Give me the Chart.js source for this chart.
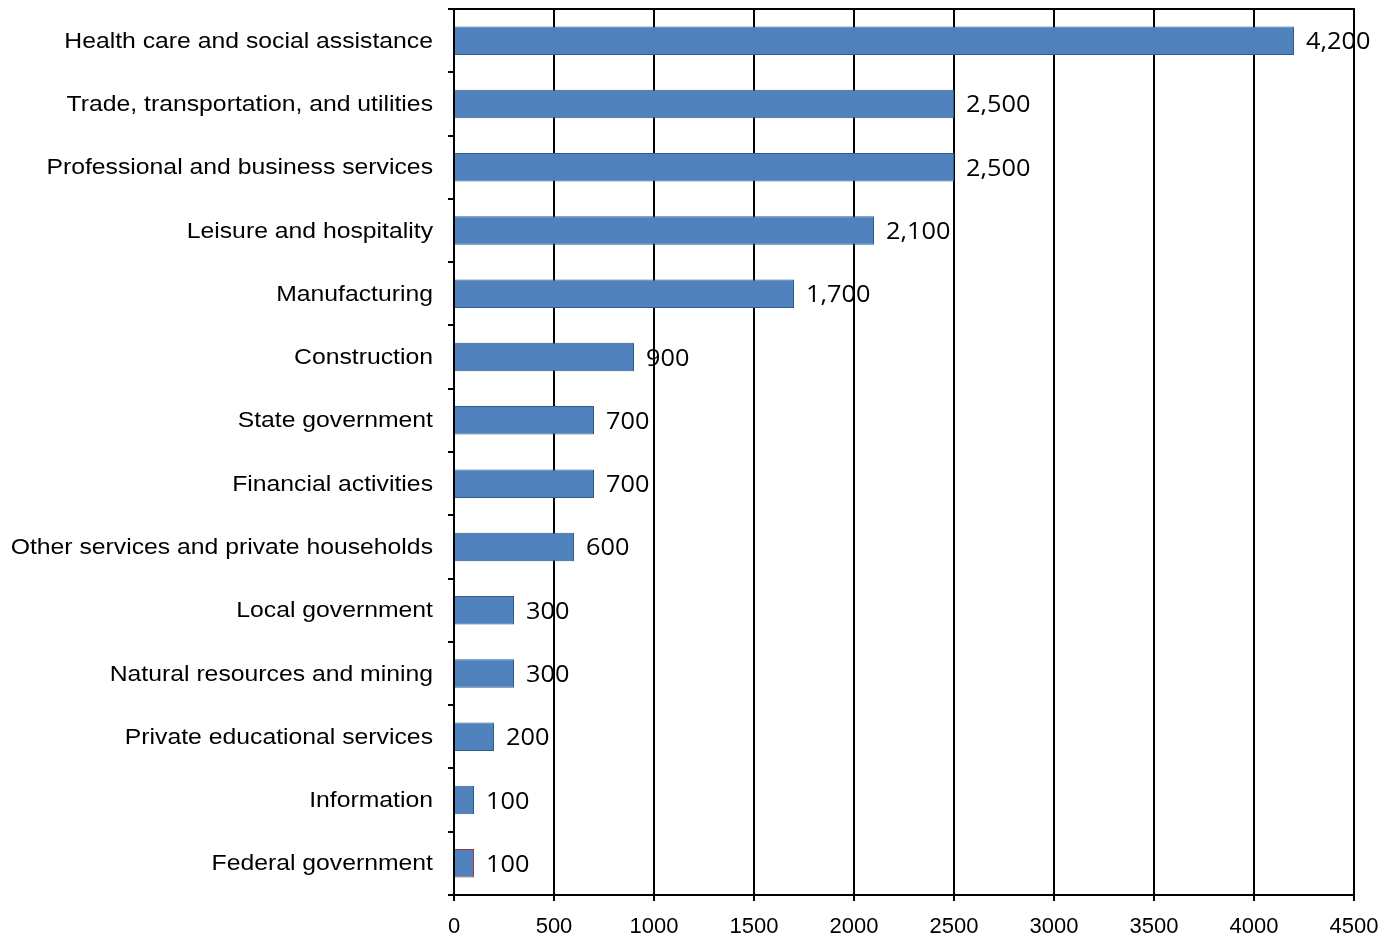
<!DOCTYPE html>
<html>
<head>
<meta charset="utf-8">
<script src="https://cdn.jsdelivr.net/npm/chart.js@4/dist/chart.umd.min.js"></script>
<style>
html,body{margin:0;padding:0;background:#fff;}
#wrap{width:1385px;height:937px;}
</style>
</head>
<body>
<div id="wrap"><canvas id="c" width="1385" height="937"></canvas></div>
<script>
const categories = [
  "Health care and social assistance",
  "Trade, transportation, and utilities",
  "Professional and business services",
  "Leisure and hospitality",
  "Manufacturing",
  "Construction",
  "State government",
  "Financial activities",
  "Other services and private households",
  "Local government",
  "Natural resources and mining",
  "Private educational services",
  "Information",
  "Federal government"
];
const values = [4200, 2500, 2500, 2100, 1700, 900, 700, 700, 600, 300, 300, 200, 100, 100];
const barBorders = ["#2F5C8F","#2F5C8F","#2F5C8F","#2F5C8F","#2F5C8F","#2F5C8F","#2F5C8F","#2F5C8F","#2F5C8F","#2F5C8F","#2F5C8F","#2F5C8F","#2F5C8F","#9B3B3B"];
const xTickValues = [0, 500, 1000, 1500, 2000, 2500, 3000, 3500, 4000, 4500];

const labelPlugin = {
  id: 'barLabels',
  afterDraw(chart) {
    const ctx = chart.ctx;
    const meta = chart.getDatasetMeta(0);
    const yScale = chart.scales.y;
    const area = chart.chartArea;
    ctx.save();
    // top border of plot area
    ctx.strokeStyle = '#000';
    ctx.lineWidth = 2;
    ctx.beginPath();
    ctx.moveTo(area.left - 1, area.top);
    ctx.lineTo(area.right + 1, area.top);
    ctx.stroke();
    // value labels
    ctx.font = '23px "Open Sans"';
    ctx.fillStyle = '#000';
    ctx.textAlign = 'left';
    ctx.textBaseline = 'middle';
    meta.data.forEach((bar, i) => {
      ctx.save();
      ctx.translate(bar.x + 12, bar.y + 2);
      ctx.scale(1.1, 1);
      ctx.fillText(values[i].toLocaleString('en-US'), 0, 0);
      ctx.restore();
    });
    // category labels
    ctx.font = '22px "Liberation Sans", Arial';
    ctx.textAlign = 'right';
    categories.forEach((c, i) => {
      const y = yScale.getPixelForValue(i);
      ctx.save();
      ctx.translate(area.left - 21, y + 1);
      ctx.scale(1.125, 1);
      ctx.fillText(c, 0, 0);
      ctx.restore();
    });
    ctx.restore();
  }
};

new Chart(document.getElementById('c'), {
  type: 'bar',
  data: {
    labels: categories,
    datasets: [{
      data: values,
      backgroundColor: '#4F81BD',
      borderColor: barBorders,
      borderWidth: 1,
      barPercentage: 0.45,
      categoryPercentage: 1.0
    }]
  },
  options: {
    indexAxis: 'y',
    responsive: false,
    animation: false,
    layout: { padding: { top: 9, right: 31, bottom: 0, left: 0 } },
    plugins: { legend: { display: false }, tooltip: { enabled: false } },
    scales: {
      x: {
        min: 0, max: 4500,
        afterBuildTicks(axis) { axis.ticks = xTickValues.map(v => ({ value: v })); },
        afterFit(axis) { axis.height = 42; axis.paddingRight = 0; axis.paddingLeft = 0; },
        grid: { color: '#000', lineWidth: 2, drawTicks: true, tickLength: 6, tickColor: '#000' },
        border: { color: '#000', width: 2 },
        ticks: { color: '#000', font: { family: '"Liberation Sans", Arial', size: 22 }, padding: 13, maxRotation: 0,
                 callback: v => String(v) }
      },
      y: {
        afterFit(axis) { axis.width = 454; },
        grid: { offset: true, drawOnChartArea: false, drawTicks: true, tickLength: 6, tickColor: '#000', lineWidth: 2 },
        border: { color: '#000', width: 2 },
        ticks: { display: false }
      }
    }
  },
  plugins: [labelPlugin]
});
</script>
</body>
</html>
